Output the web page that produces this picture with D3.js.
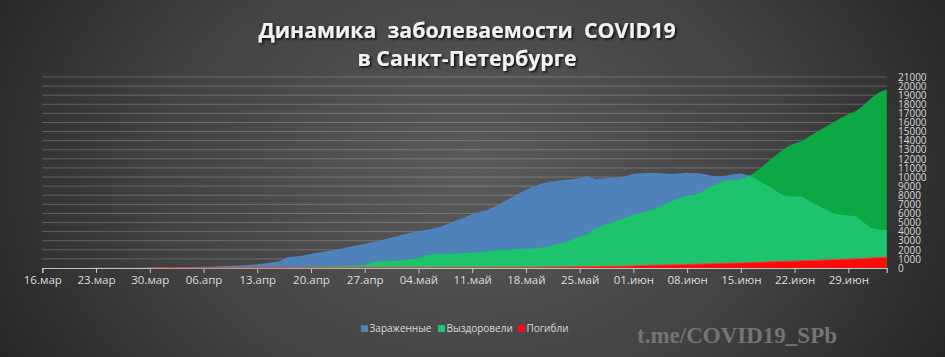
<!DOCTYPE html>
<html><head><meta charset="utf-8">
<script src="https://cdn.jsdelivr.net/npm/d3@7"></script>
<style>
html,body{margin:0;padding:0;background:#333;}
svg{display:block;}
text{font-family:"Open Sans","DejaVu Sans",sans-serif;}
</style></head>
<body><svg id="chart" width="945" height="357"></svg>
<script>
// ---- DATA ----
const startDate = new Date(2020, 2, 16); // first day of the series (16 March)
const active = [
  3,4,5,6,8,10,12,14,17,20,
  24,28,33,38,44,50,57,65,75,88,
  105,125,150,180,210,245,285,340,410,500,
  620,780,1220,1260,1380,1560,1700,1840,1980,2150,
  2330,2500,2660,2830,3020,3240,3440,3680,3880,4070,
  4170,4330,4600,4900,5250,5550,5930,6170,6400,6800,
  7250,7700,8150,8570,8950,9250,9450,9600,9680,9770,
  9900,10120,9780,9850,9920,9980,10080,10350,10430,10470,
  10450,10380,10330,10400,10480,10450,10350,10180,10100,10150,
  10300,10400,10200,9750,9300,8800,8250,7900,7850,7830,
  7300,6900,6450,6050,5850,5780,5700,5000,4400,4220,4180
];
const recovered = [
  0,0,0,0,0,0,0,0,0,0,
  1,1,2,2,3,4,5,6,8,10,
  12,14,16,20,25,30,35,40,50,60,
  70,80,100,110,120,130,150,180,200,220,
  240,260,300,650,730,780,830,880,950,1080,
  1430,1500,1540,1580,1620,1660,1700,1760,1850,1950,
  2000,2050,2100,2150,2180,2250,2400,2600,2800,3100,
  3450,3700,4350,4650,4950,5250,5550,5850,6050,6300,
  6600,7000,7350,7700,7950,8050,8400,8900,9300,9600,
  9680,9750,10100,10600,11300,12000,12700,13300,13700,13950,
  14500,15000,15500,16000,16500,16900,17250,17900,18700,19300,19630
];
const deaths = [
  0,0,0,0,0,0,0,0,0,0,0,0,0,0,
  2,2,3,3,4,5,5,6,7,8,
  9,10,11,12,13,14,15,16,17,18,
  20,22,24,26,28,30,32,34,36,38,
  40,42,44,46,48,50,52,54,56,58,
  60,62,64,66,68,70,72,74,76,80,
  85,90,100,
  110,120,130,140,150,165,180,190,200,215,
  240,270,300,320,340,360,380,400,420,440,
  470,500,520,540,560,590,620,650,680,710,
  740,770,800,830,860,890,920,950,980,1010,
  1050,1100,1150,1200
];
const xTickLabels = ["16.мар","23.мар","30.мар","06.апр","13.апр","20.апр","27.апр","04.май",
  "11.май","18.май","25.май","01.июн","08.июн","15.июн","22.июн","29.июн"];
const yTicks = d3.range(0, 21001, 1000);
const seriesNames = ["Зараженные","Выздоровели","Погибли"];
const titleLines = ["Динамика  заболеваемости  COVID19","в Санкт-Петербурге"];
const watermark = "t.me/COVID19_SPb";

// ---- CHART ----
const W = 945, H = 357;
const svg = d3.select("#chart");
const defs = svg.append("defs");
const bg = defs.append("radialGradient").attr("id","bg")
  .attr("gradientUnits","userSpaceOnUse").attr("cx",470).attr("cy",170).attr("r",560)
  .attr("gradientTransform","translate(470,170) scale(1,0.75) translate(-470,-170)");
bg.append("stop").attr("offset","0").attr("stop-color","#5b5b5b");
bg.append("stop").attr("offset","0.55").attr("stop-color","#424242");
bg.append("stop").attr("offset","1").attr("stop-color","#232323");
const sh = defs.append("filter").attr("id","shadow").attr("x","-10%").attr("y","-30%").attr("width","120%").attr("height","160%");
sh.append("feDropShadow").attr("dx",1.5).attr("dy",1.5).attr("stdDeviation",1.3)
  .attr("flood-color","#000").attr("flood-opacity",0.85);

svg.append("rect").attr("width",W).attr("height",H).attr("fill","url(#bg)");

const dates = active.map((_, i) => d3.timeDay.offset(startDate, i));
const x = d3.scaleTime().domain([dates[0], dates[dates.length-1]]).range([42.3, 886.7]);
const y = d3.scaleLinear().domain([0, 21000]).range([268, 77]);

// gridlines
svg.append("g").selectAll("line").data(yTicks.filter(v => v > 0)).join("line")
  .attr("x1", x.range()[0]).attr("x2", x.range()[1])
  .attr("y1", d => y(d)).attr("y2", d => y(d))
  .attr("stroke","rgba(255,255,255,0.22)").attr("stroke-width",1);

const colors = {blue:"#4f82ba", green:"#1ec46d", dgreen:"#0ca843", red:"#ff0a0a"};

const areaOf = arr => d3.area().x((d,i) => x(dates[i])).y0(y(0)).y1(d => y(d));

svg.append("path").datum(active).attr("d", areaOf(active)).attr("fill", colors.blue);
defs.append("clipPath").attr("id","activeClip").append("path").datum(active).attr("d", areaOf(active));
svg.append("path").datum(recovered).attr("d", areaOf(recovered)).attr("fill", colors.dgreen);
svg.append("path").datum(recovered).attr("d", areaOf(recovered)).attr("fill", colors.green)
  .attr("clip-path","url(#activeClip)");

// x axis
const tickDates = xTickLabels.map((_, i) => d3.timeDay.offset(startDate, 7*i));
const xAxis = d3.axisBottom(x).tickValues(tickDates).tickFormat((d,i) => xTickLabels[i])
  .tickSize(5).tickPadding(3);
const gx = svg.append("g").attr("transform", `translate(0,${y(0)})`).call(xAxis);
gx.select(".domain").attr("stroke","#b9c9c0").attr("stroke-width",1.2);
gx.selectAll(".tick line").attr("stroke","#c8c8c8");
gx.selectAll(".tick text").attr("fill","#dcdcdc").style("font-size","11.5px")
  .style("font-family","'Open Sans',sans-serif");

// deaths on top
svg.append("path").datum(deaths).attr("d", areaOf(deaths)).attr("fill", colors.red);
svg.append("path").datum(deaths.map((v,i)=>[i,v]).filter(p => p[1] > 0))
  .attr("d", d3.line().x(p => x(dates[p[0]])).y(p => y(p[1])))
  .attr("fill","none").attr("stroke","#e04545").attr("stroke-width",1);

// y axis on right
const yAxis = d3.axisRight(y).tickValues(yTicks).tickSize(0).tickPadding(0).tickFormat(d3.format("d"));
const gy = svg.append("g").attr("transform","translate(898,0)").call(yAxis);
gy.select(".domain").remove();
gy.selectAll(".tick text").attr("fill","#d8d8d8").style("font-size","10px")
  .style("font-family","'Open Sans',sans-serif");

// title
svg.append("g").attr("filter","url(#shadow)").selectAll("text").data(titleLines).join("text")
  .attr("x", 467).attr("y", (d,i) => 38 + i*28).attr("text-anchor","middle")
  .attr("fill","#f2f2f2").style("font-size","21.3px").style("font-weight","700")
  .style("white-space","pre").attr("xml:space","preserve").text(d => d);

// legend
const legendX = [361, 438, 518];
const legendColors = [colors.blue, colors.green, colors.red];
const lg = svg.append("g");
seriesNames.forEach((n, i) => {
  lg.append("rect").attr("x", legendX[i]).attr("y", 325).attr("width", 7).attr("height", 7)
    .attr("fill", legendColors[i]);
  lg.append("text").attr("x", legendX[i] + 8.5).attr("y", 332).attr("fill","#d9d9d9")
    .style("font-size","10px").text(n);
});

// watermark
svg.append("text").attr("x", 637).attr("y", 343).attr("fill","#747474")
  .style("font-family","'Liberation Serif','Times New Roman',serif").style("font-weight","700")
  .style("font-size","23px").text(watermark);
</script></body></html>
